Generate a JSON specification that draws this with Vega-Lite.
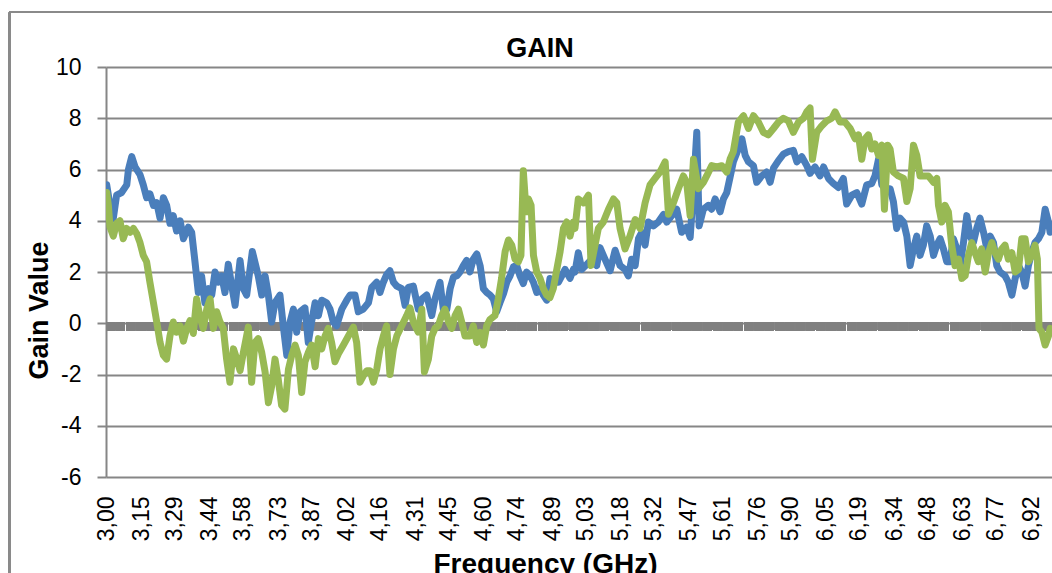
{
  "$schema": "https://vega.github.io/schema/vega-lite/v6.json",
  "autosize": {"type": "none"},
  "width": 946,
  "height": 410,
  "padding": {"left": 106, "top": 67, "right": 0, "bottom": 96},
  "background": "white",
  "config": {"view": {"stroke": null}, "font": "Liberation Sans", "axis": {"labelOverlap": false}},
  "title": {"text": "GAIN", "fontSize": 27, "fontWeight": "bold", "font": "Liberation Sans", "color": "#000000", "anchor": "middle", "frame": "group", "dx": -39, "offset": -73, "baseline": "alphabetic"},
  "data": {"values": [
{"freq":3.003,"series":"S1","gain":5.4},{"freq":3.017,"series":"S1","gain":4.6},{"freq":3.031,"series":"S1","gain":4.1},{"freq":3.045,"series":"S1","gain":5.0},{"freq":3.066,"series":"S1","gain":5.1},{"freq":3.088,"series":"S1","gain":5.4},{"freq":3.095,"series":"S1","gain":6.0},{"freq":3.109,"series":"S1","gain":6.5},{"freq":3.123,"series":"S1","gain":6.1},{"freq":3.144,"series":"S1","gain":5.8},{"freq":3.158,"series":"S1","gain":5.4},{"freq":3.172,"series":"S1","gain":4.9},{"freq":3.186,"series":"S1","gain":5.05},{"freq":3.201,"series":"S1","gain":4.6},{"freq":3.215,"series":"S1","gain":4.7},{"freq":3.229,"series":"S1","gain":4.1},{"freq":3.243,"series":"S1","gain":4.9},{"freq":3.257,"series":"S1","gain":4.6},{"freq":3.271,"series":"S1","gain":3.9},{"freq":3.285,"series":"S1","gain":4.2},{"freq":3.299,"series":"S1","gain":3.6},{"freq":3.314,"series":"S1","gain":4.0},{"freq":3.328,"series":"S1","gain":3.3},{"freq":3.349,"series":"S1","gain":3.75},{"freq":3.363,"series":"S1","gain":3.55},{"freq":3.377,"series":"S1","gain":2.4},{"freq":3.391,"series":"S1","gain":1.2},{"freq":3.405,"series":"S1","gain":1.85},{"freq":3.419,"series":"S1","gain":0.8},{"freq":3.434,"series":"S1","gain":1.35},{"freq":3.448,"series":"S1","gain":1.1},{"freq":3.462,"series":"S1","gain":2.0},{"freq":3.476,"series":"S1","gain":1.6},{"freq":3.490,"series":"S1","gain":1.85},{"freq":3.504,"series":"S1","gain":1.2},{"freq":3.518,"series":"S1","gain":2.3},{"freq":3.532,"series":"S1","gain":1.5},{"freq":3.547,"series":"S1","gain":0.7},{"freq":3.568,"series":"S1","gain":2.45},{"freq":3.582,"series":"S1","gain":1.35},{"freq":3.596,"series":"S1","gain":1.1},{"freq":3.62,"series":"S1","gain":2.8},
{"freq":3.645,"series":"S1","gain":1.85},{"freq":3.660,"series":"S1","gain":1.1},{"freq":3.674,"series":"S1","gain":1.85},{"freq":3.688,"series":"S1","gain":1.1},{"freq":3.702,"series":"S1","gain":0.05},{"freq":3.716,"series":"S1","gain":0.8},{"freq":3.737,"series":"S1","gain":1.1},{"freq":3.751,"series":"S1","gain":-0.1},{"freq":3.766,"series":"S1","gain":-1.25},{"freq":3.780,"series":"S1","gain":0.05},{"freq":3.794,"series":"S1","gain":0.55},{"freq":3.808,"series":"S1","gain":-0.35},{"freq":3.822,"series":"S1","gain":0.45},{"freq":3.843,"series":"S1","gain":0.6},{"freq":3.857,"series":"S1","gain":-0.75},{"freq":3.871,"series":"S1","gain":0.05},{"freq":3.886,"series":"S1","gain":0.8},{"freq":3.900,"series":"S1","gain":0.3},{"freq":3.914,"series":"S1","gain":0.9},{"freq":3.935,"series":"S1","gain":0.8},{"freq":3.949,"series":"S1","gain":0.55},{"freq":3.963,"series":"S1","gain":0.05},{"freq":3.977,"series":"S1","gain":-0.1},{"freq":3.999,"series":"S1","gain":0.55},{"freq":4.020,"series":"S1","gain":0.9},{"freq":4.034,"series":"S1","gain":1.1},{"freq":4.055,"series":"S1","gain":1.1},{"freq":4.069,"series":"S1","gain":0.45},{"freq":4.090,"series":"S1","gain":0.55},{"freq":4.112,"series":"S1","gain":0.8},{"freq":4.126,"series":"S1","gain":1.4},{"freq":4.147,"series":"S1","gain":1.6},{"freq":4.161,"series":"S1","gain":1.2},{"freq":4.175,"series":"S1","gain":1.6},{"freq":4.189,"series":"S1","gain":1.9},{"freq":4.203,"series":"S1","gain":2.05},{"freq":4.218,"series":"S1","gain":1.6},{"freq":4.232,"series":"S1","gain":1.45},{"freq":4.253,"series":"S1","gain":1.35},{"freq":4.267,"series":"S1","gain":0.7},{"freq":4.281,"series":"S1","gain":1.4},{"freq":4.302,"series":"S1","gain":1.45},
{"freq":4.323,"series":"S1","gain":0.55},{"freq":4.338,"series":"S1","gain":0.95},{"freq":4.359,"series":"S1","gain":1.1},{"freq":4.380,"series":"S1","gain":0.3},{"freq":4.394,"series":"S1","gain":0.95},{"freq":4.415,"series":"S1","gain":1.6},{"freq":4.429,"series":"S1","gain":0.55},{"freq":4.444,"series":"S1","gain":0.55},{"freq":4.458,"series":"S1","gain":1.35},{"freq":4.472,"series":"S1","gain":1.8},{"freq":4.486,"series":"S1","gain":1.85},{"freq":4.500,"series":"S1","gain":2.0},{"freq":4.514,"series":"S1","gain":2.25},{"freq":4.528,"series":"S1","gain":2.45},{"freq":4.542,"series":"S1","gain":2.0},{"freq":4.556,"series":"S1","gain":2.5},{"freq":4.571,"series":"S1","gain":2.7},{"freq":4.585,"series":"S1","gain":2.25},{"freq":4.599,"series":"S1","gain":1.35},{"freq":4.613,"series":"S1","gain":1.2},{"freq":4.627,"series":"S1","gain":1.1},{"freq":4.641,"series":"S1","gain":0.95},{"freq":4.655,"series":"S1","gain":0.45},{"freq":4.669,"series":"S1","gain":0.8},{"freq":4.684,"series":"S1","gain":1.15},{"freq":4.698,"series":"S1","gain":1.6},{"freq":4.712,"series":"S1","gain":1.85},{"freq":4.726,"series":"S1","gain":2.2},{"freq":4.740,"series":"S1","gain":2.25},{"freq":4.754,"series":"S1","gain":1.85},{"freq":4.768,"series":"S1","gain":1.55},{"freq":4.782,"series":"S1","gain":2.0},{"freq":4.797,"series":"S1","gain":1.85},{"freq":4.811,"series":"S1","gain":1.6},{"freq":4.825,"series":"S1","gain":1.2},{"freq":4.839,"series":"S1","gain":1.35},{"freq":4.853,"series":"S1","gain":1.1},{"freq":4.867,"series":"S1","gain":0.9},{"freq":4.881,"series":"S1","gain":1.75},{"freq":4.895,"series":"S1","gain":1.6},{"freq":4.917,"series":"S1","gain":1.6},{"freq":4.931,"series":"S1","gain":1.85},{"freq":4.945,"series":"S1","gain":2.1},{"freq":4.966,"series":"S1","gain":1.75},{"freq":4.980,"series":"S1","gain":2.1},
{"freq":4.987,"series":"S1","gain":2.0},{"freq":5.001,"series":"S1","gain":2.75},{"freq":5.016,"series":"S1","gain":2.1},{"freq":5.037,"series":"S1","gain":2.3},{"freq":5.058,"series":"S1","gain":2.5},{"freq":5.079,"series":"S1","gain":2.25},{"freq":5.093,"series":"S1","gain":2.95},{"freq":5.114,"series":"S1","gain":2.5},{"freq":5.136,"series":"S1","gain":2.05},{"freq":5.157,"series":"S1","gain":2.85},{"freq":5.178,"series":"S1","gain":2.25},{"freq":5.199,"series":"S1","gain":2.1},{"freq":5.213,"series":"S1","gain":1.85},{"freq":5.227,"series":"S1","gain":2.5},{"freq":5.242,"series":"S1","gain":2.25},{"freq":5.256,"series":"S1","gain":3.3},{"freq":5.270,"series":"S1","gain":3.55},{"freq":5.284,"series":"S1","gain":3.05},{"freq":5.298,"series":"S1","gain":3.95},{"freq":5.319,"series":"S1","gain":3.8},{"freq":5.340,"series":"S1","gain":3.95},{"freq":5.362,"series":"S1","gain":4.25},{"freq":5.376,"series":"S1","gain":3.95},{"freq":5.397,"series":"S1","gain":4.2},{"freq":5.418,"series":"S1","gain":4.45},{"freq":5.439,"series":"S1","gain":3.55},{"freq":5.460,"series":"S1","gain":3.75},{"freq":5.475,"series":"S1","gain":3.35},{"freq":5.489,"series":"S1","gain":5.25},{"freq":5.503,"series":"S1","gain":7.45},{"freq":5.513,"series":"S1","gain":3.8},{"freq":5.531,"series":"S1","gain":4.45},{"freq":5.552,"series":"S1","gain":4.6},{"freq":5.566,"series":"S1","gain":4.45},{"freq":5.581,"series":"S1","gain":4.85},{"freq":5.602,"series":"S1","gain":4.35},{"freq":5.616,"series":"S1","gain":4.85},{"freq":5.630,"series":"S1","gain":5.1},{"freq":5.644,"series":"S1","gain":5.7},{"freq":5.658,"series":"S1","gain":6.3},
{"freq":5.679,"series":"S1","gain":6.8},{"freq":5.694,"series":"S1","gain":7.2},{"freq":5.708,"series":"S1","gain":6.55},{"freq":5.722,"series":"S1","gain":6.3},{"freq":5.743,"series":"S1","gain":6.15},{"freq":5.757,"series":"S1","gain":5.5},{"freq":5.778,"series":"S1","gain":5.75},{"freq":5.799,"series":"S1","gain":5.9},{"freq":5.814,"series":"S1","gain":5.5},{"freq":5.828,"series":"S1","gain":6.05},{"freq":5.849,"series":"S1","gain":6.35},{"freq":5.870,"series":"S1","gain":6.6},{"freq":5.891,"series":"S1","gain":6.7},{"freq":5.912,"series":"S1","gain":6.75},{"freq":5.927,"series":"S1","gain":6.3},{"freq":5.948,"series":"S1","gain":6.5},{"freq":5.969,"series":"S1","gain":6.15},{"freq":5.983,"series":"S1","gain":5.85},{"freq":6.004,"series":"S1","gain":6.1},{"freq":6.025,"series":"S1","gain":5.75},{"freq":6.040,"series":"S1","gain":6.1},{"freq":6.061,"series":"S1","gain":5.65},{"freq":6.082,"series":"S1","gain":5.45},{"freq":6.103,"series":"S1","gain":5.3},{"freq":6.124,"series":"S1","gain":5.65},{"freq":6.138,"series":"S1","gain":4.65},{"freq":6.160,"series":"S1","gain":5.0},{"freq":6.181,"series":"S1","gain":5.1},{"freq":6.202,"series":"S1","gain":4.65},{"freq":6.223,"series":"S1","gain":5.4},{"freq":6.244,"series":"S1","gain":5.45},{"freq":6.258,"series":"S1","gain":5.75},{"freq":6.273,"series":"S1","gain":6.4},{"freq":6.287,"series":"S1","gain":5.4},{"freq":6.308,"series":"S1","gain":5.25},
{"freq":6.322,"series":"S1","gain":5.25},{"freq":6.336,"series":"S1","gain":4.75},{"freq":6.350,"series":"S1","gain":3.7},{"freq":6.364,"series":"S1","gain":4.1},{"freq":6.379,"series":"S1","gain":3.95},{"freq":6.393,"series":"S1","gain":3.4},{"freq":6.407,"series":"S1","gain":2.25},{"freq":6.421,"series":"S1","gain":2.9},{"freq":6.435,"series":"S1","gain":3.4},{"freq":6.449,"series":"S1","gain":2.65},{"freq":6.463,"series":"S1","gain":3.05},{"freq":6.477,"series":"S1","gain":3.8},{"freq":6.492,"series":"S1","gain":3.4},{"freq":6.506,"series":"S1","gain":2.65},{"freq":6.520,"series":"S1","gain":3.05},{"freq":6.534,"series":"S1","gain":3.3},{"freq":6.548,"series":"S1","gain":2.9},{"freq":6.562,"series":"S1","gain":2.4},{"freq":6.576,"series":"S1","gain":2.4},{"freq":6.590,"series":"S1","gain":3.3},{"freq":6.605,"series":"S1","gain":2.9},{"freq":6.619,"series":"S1","gain":2.25},{"freq":6.633,"series":"S1","gain":3.15},{"freq":6.647,"series":"S1","gain":4.2},{"freq":6.661,"series":"S1","gain":3.4},{"freq":6.675,"series":"S1","gain":3.15},{"freq":6.689,"series":"S1","gain":3.7},{"freq":6.703,"series":"S1","gain":4.1},{"freq":6.718,"series":"S1","gain":3.55},{"freq":6.732,"series":"S1","gain":2.9},{"freq":6.746,"series":"S1","gain":3.4},{"freq":6.760,"series":"S1","gain":3.15},{"freq":6.774,"series":"S1","gain":2.25},{"freq":6.788,"series":"S1","gain":2.0},{"freq":6.809,"series":"S1","gain":1.85},{"freq":6.823,"series":"S1","gain":1.6},{"freq":6.838,"series":"S1","gain":1.1},{"freq":6.852,"series":"S1","gain":1.75},{"freq":6.866,"series":"S1","gain":2.25},{"freq":6.880,"series":"S1","gain":2.0},{"freq":6.894,"series":"S1","gain":1.45},{"freq":6.908,"series":"S1","gain":2.25},{"freq":6.922,"series":"S1","gain":2.75},{"freq":6.936,"series":"S1","gain":3.15},{"freq":6.951,"series":"S1","gain":3.3},{"freq":6.965,"series":"S1","gain":3.55},{"freq":6.979,"series":"S1","gain":4.45},{"freq":6.993,"series":"S1","gain":3.95},{"freq":7.0,"series":"S1","gain":3.55},
{"freq":3.003,"series":"S2","gain":5.1},{"freq":3.010,"series":"S2","gain":4.6},{"freq":3.017,"series":"S2","gain":3.75},{"freq":3.031,"series":"S2","gain":3.4},{"freq":3.045,"series":"S2","gain":3.9},{"freq":3.059,"series":"S2","gain":4.0},{"freq":3.073,"series":"S2","gain":3.3},{"freq":3.088,"series":"S2","gain":3.7},{"freq":3.102,"series":"S2","gain":3.55},{"freq":3.116,"series":"S2","gain":3.7},{"freq":3.130,"series":"S2","gain":3.5},{"freq":3.144,"series":"S2","gain":3.15},{"freq":3.158,"series":"S2","gain":2.65},{"freq":3.172,"series":"S2","gain":2.4},{"freq":3.186,"series":"S2","gain":1.6},{"freq":3.201,"series":"S2","gain":0.8},{"freq":3.215,"series":"S2","gain":0.05},{"freq":3.229,"series":"S2","gain":-0.75},{"freq":3.243,"series":"S2","gain":-1.25},{"freq":3.257,"series":"S2","gain":-1.4},{"freq":3.271,"series":"S2","gain":-0.5},{"freq":3.285,"series":"S2","gain":0.05},{"freq":3.299,"series":"S2","gain":-0.35},{"freq":3.314,"series":"S2","gain":-0.1},{"freq":3.328,"series":"S2","gain":-0.7},{"freq":3.342,"series":"S2","gain":-0.2},{"freq":3.356,"series":"S2","gain":0.1},{"freq":3.370,"series":"S2","gain":-0.4},{"freq":3.384,"series":"S2","gain":0.95},{"freq":3.398,"series":"S2","gain":0.25},{"freq":3.412,"series":"S2","gain":-0.2},{"freq":3.427,"series":"S2","gain":0.55},{"freq":3.441,"series":"S2","gain":0.95},{"freq":3.455,"series":"S2","gain":-0.2},{"freq":3.469,"series":"S2","gain":0.45},{"freq":3.483,"series":"S2","gain":0.05},{"freq":3.497,"series":"S2","gain":-0.2},{"freq":3.511,"series":"S2","gain":-1.4},{"freq":3.525,"series":"S2","gain":-2.3},{"freq":3.540,"series":"S2","gain":-1.0},{"freq":3.554,"series":"S2","gain":-1.4},{"freq":3.568,"series":"S2","gain":-1.85},{"freq":3.582,"series":"S2","gain":-1.15},{"freq":3.603,"series":"S2","gain":-0.15},{"freq":3.617,"series":"S2","gain":-2.3},
{"freq":3.631,"series":"S2","gain":-0.75},{"freq":3.645,"series":"S2","gain":-0.6},{"freq":3.660,"series":"S2","gain":-1.15},{"freq":3.674,"series":"S2","gain":-1.9},{"freq":3.688,"series":"S2","gain":-3.1},{"freq":3.702,"series":"S2","gain":-2.45},{"freq":3.716,"series":"S2","gain":-1.4},{"freq":3.730,"series":"S2","gain":-2.2},{"freq":3.744,"series":"S2","gain":-3.2},{"freq":3.758,"series":"S2","gain":-3.35},{"freq":3.773,"series":"S2","gain":-1.8},{"freq":3.787,"series":"S2","gain":-1.25},{"freq":3.801,"series":"S2","gain":-0.85},{"freq":3.815,"series":"S2","gain":-1.25},{"freq":3.829,"series":"S2","gain":-2.7},{"freq":3.843,"series":"S2","gain":-1.5},{"freq":3.857,"series":"S2","gain":-1.15},{"freq":3.871,"series":"S2","gain":-0.85},{"freq":3.886,"series":"S2","gain":-1.7},{"freq":3.900,"series":"S2","gain":-0.6},{"freq":3.914,"series":"S2","gain":-1.0},{"freq":3.928,"series":"S2","gain":-0.5},{"freq":3.942,"series":"S2","gain":-0.2},{"freq":3.956,"series":"S2","gain":-0.75},{"freq":3.970,"series":"S2","gain":-1.5},{"freq":3.984,"series":"S2","gain":-1.2},{"freq":4.006,"series":"S2","gain":-0.85},{"freq":4.027,"series":"S2","gain":-0.5},{"freq":4.048,"series":"S2","gain":-0.15},{"freq":4.062,"series":"S2","gain":-0.75},{"freq":4.076,"series":"S2","gain":-2.3},{"freq":4.090,"series":"S2","gain":-2.05},{"freq":4.105,"series":"S2","gain":-1.85},{"freq":4.119,"series":"S2","gain":-1.85},{"freq":4.133,"series":"S2","gain":-2.3},{"freq":4.147,"series":"S2","gain":-1.8},{"freq":4.161,"series":"S2","gain":-1.0},{"freq":4.175,"series":"S2","gain":-0.5},{"freq":4.189,"series":"S2","gain":-0.1},{"freq":4.203,"series":"S2","gain":-2.0},{"freq":4.218,"series":"S2","gain":-1.0},{"freq":4.232,"series":"S2","gain":-0.5},{"freq":4.253,"series":"S2","gain":-0.1},{"freq":4.274,"series":"S2","gain":0.3},{"freq":4.288,"series":"S2","gain":0.6},{"freq":4.302,"series":"S2","gain":0.05},
{"freq":4.323,"series":"S2","gain":-0.35},{"freq":4.338,"series":"S2","gain":0.55},{"freq":4.349,"series":"S2","gain":-1.9},{"freq":4.366,"series":"S2","gain":-1.4},{"freq":4.380,"series":"S2","gain":-0.5},{"freq":4.394,"series":"S2","gain":-0.2},{"freq":4.408,"series":"S2","gain":-0.1},{"freq":4.422,"series":"S2","gain":0.3},{"freq":4.436,"series":"S2","gain":0.55},{"freq":4.451,"series":"S2","gain":0.05},{"freq":4.465,"series":"S2","gain":-0.2},{"freq":4.479,"series":"S2","gain":0.3},{"freq":4.493,"series":"S2","gain":0.55},{"freq":4.507,"series":"S2","gain":0.05},{"freq":4.521,"series":"S2","gain":-0.5},{"freq":4.542,"series":"S2","gain":-0.5},{"freq":4.556,"series":"S2","gain":-0.1},{"freq":4.571,"series":"S2","gain":-0.75},{"freq":4.585,"series":"S2","gain":-0.35},{"freq":4.599,"series":"S2","gain":-0.85},{"freq":4.613,"series":"S2","gain":-0.1},{"freq":4.627,"series":"S2","gain":0.15},{"freq":4.648,"series":"S2","gain":0.3},{"freq":4.662,"series":"S2","gain":0.95},{"freq":4.676,"series":"S2","gain":1.75},{"freq":4.691,"series":"S2","gain":2.8},{"freq":4.705,"series":"S2","gain":3.25},{"freq":4.719,"series":"S2","gain":3.05},{"freq":4.733,"series":"S2","gain":2.5},{"freq":4.747,"series":"S2","gain":2.4},{"freq":4.758,"series":"S2","gain":2.65},{"freq":4.768,"series":"S2","gain":5.95},{"freq":4.780,"series":"S2","gain":4.35},{"freq":4.790,"series":"S2","gain":4.85},{"freq":4.801,"series":"S2","gain":4.6},{"freq":4.811,"series":"S2","gain":2.65},{"freq":4.825,"series":"S2","gain":2.0},{"freq":4.839,"series":"S2","gain":1.75},{"freq":4.853,"series":"S2","gain":1.35},{"freq":4.867,"series":"S2","gain":1.1},{"freq":4.881,"series":"S2","gain":1.0},{"freq":4.895,"series":"S2","gain":1.35},{"freq":4.910,"series":"S2","gain":2.1},{"freq":4.924,"series":"S2","gain":2.8},{"freq":4.938,"series":"S2","gain":3.7},{"freq":4.952,"series":"S2","gain":3.95},{"freq":4.966,"series":"S2","gain":3.4},{"freq":4.980,"series":"S2","gain":3.95},
{"freq":4.987,"series":"S2","gain":3.7},{"freq":5.001,"series":"S2","gain":4.85},{"freq":5.023,"series":"S2","gain":4.7},{"freq":5.044,"series":"S2","gain":5.0},{"freq":5.055,"series":"S2","gain":2.25},{"freq":5.072,"series":"S2","gain":3.05},{"freq":5.086,"series":"S2","gain":3.7},{"freq":5.107,"series":"S2","gain":3.95},{"freq":5.129,"series":"S2","gain":4.45},{"freq":5.150,"series":"S2","gain":4.85},{"freq":5.164,"series":"S2","gain":4.7},{"freq":5.178,"series":"S2","gain":3.7},{"freq":5.199,"series":"S2","gain":2.9},{"freq":5.220,"series":"S2","gain":3.4},{"freq":5.242,"series":"S2","gain":4.05},{"freq":5.263,"series":"S2","gain":3.7},{"freq":5.284,"series":"S2","gain":4.7},{"freq":5.305,"series":"S2","gain":5.4},{"freq":5.326,"series":"S2","gain":5.65},{"freq":5.347,"series":"S2","gain":5.9},{"freq":5.369,"series":"S2","gain":6.3},{"freq":5.383,"series":"S2","gain":4.25},{"freq":5.404,"series":"S2","gain":4.7},{"freq":5.425,"series":"S2","gain":5.25},{"freq":5.446,"series":"S2","gain":5.75},{"freq":5.460,"series":"S2","gain":5.5},{"freq":5.475,"series":"S2","gain":4.2},{"freq":5.489,"series":"S2","gain":6.4},{"freq":5.510,"series":"S2","gain":5.25},{"freq":5.531,"series":"S2","gain":5.5},{"freq":5.545,"series":"S2","gain":5.75},{"freq":5.566,"series":"S2","gain":6.15},{"freq":5.588,"series":"S2","gain":6.1},{"freq":5.609,"series":"S2","gain":6.15},{"freq":5.630,"series":"S2","gain":5.9},{"freq":5.644,"series":"S2","gain":6.4},{"freq":5.658,"series":"S2","gain":6.7},
{"freq":5.679,"series":"S2","gain":7.85},{"freq":5.701,"series":"S2","gain":8.1},{"freq":5.722,"series":"S2","gain":7.6},{"freq":5.743,"series":"S2","gain":8.1},{"freq":5.764,"series":"S2","gain":7.85},{"freq":5.785,"series":"S2","gain":7.45},{"freq":5.806,"series":"S2","gain":7.35},{"freq":5.828,"series":"S2","gain":7.6},{"freq":5.849,"series":"S2","gain":7.85},{"freq":5.870,"series":"S2","gain":8.0},{"freq":5.891,"series":"S2","gain":7.9},{"freq":5.912,"series":"S2","gain":7.45},{"freq":5.934,"series":"S2","gain":7.85},{"freq":5.955,"series":"S2","gain":8.0},{"freq":5.969,"series":"S2","gain":8.25},{"freq":5.983,"series":"S2","gain":8.4},{"freq":5.993,"series":"S2","gain":6.4},{"freq":6.011,"series":"S2","gain":7.45},{"freq":6.032,"series":"S2","gain":7.7},{"freq":6.054,"series":"S2","gain":7.9},{"freq":6.075,"series":"S2","gain":8.0},{"freq":6.089,"series":"S2","gain":8.25},{"freq":6.110,"series":"S2","gain":7.85},{"freq":6.131,"series":"S2","gain":7.85},{"freq":6.153,"series":"S2","gain":7.6},{"freq":6.174,"series":"S2","gain":7.2},{"freq":6.188,"series":"S2","gain":7.35},{"freq":6.202,"series":"S2","gain":6.4},{"freq":6.216,"series":"S2","gain":7.2},{"freq":6.230,"series":"S2","gain":7.35},{"freq":6.244,"series":"S2","gain":6.8},{"freq":6.258,"series":"S2","gain":7.0},{"freq":6.273,"series":"S2","gain":6.55},{"freq":6.287,"series":"S2","gain":6.95},{"freq":6.298,"series":"S2","gain":4.45},{"freq":6.312,"series":"S2","gain":6.95},
{"freq":6.322,"series":"S2","gain":6.8},{"freq":6.336,"series":"S2","gain":5.9},{"freq":6.357,"series":"S2","gain":5.75},{"freq":6.379,"series":"S2","gain":5.65},{"freq":6.393,"series":"S2","gain":4.75},{"freq":6.407,"series":"S2","gain":5.25},{"freq":6.421,"series":"S2","gain":6.95},{"freq":6.435,"series":"S2","gain":6.55},{"freq":6.449,"series":"S2","gain":5.75},{"freq":6.463,"series":"S2","gain":5.75},{"freq":6.484,"series":"S2","gain":5.75},{"freq":6.506,"series":"S2","gain":5.5},{"freq":6.520,"series":"S2","gain":5.65},{"freq":6.527,"series":"S2","gain":4.6},{"freq":6.541,"series":"S2","gain":3.95},{"freq":6.555,"series":"S2","gain":4.6},{"freq":6.569,"series":"S2","gain":4.35},{"freq":6.583,"series":"S2","gain":3.05},{"freq":6.597,"series":"S2","gain":2.25},{"freq":6.612,"series":"S2","gain":2.5},{"freq":6.626,"series":"S2","gain":1.75},{"freq":6.640,"series":"S2","gain":1.85},{"freq":6.654,"series":"S2","gain":2.65},{"freq":6.668,"series":"S2","gain":3.15},{"freq":6.682,"series":"S2","gain":2.75},{"freq":6.696,"series":"S2","gain":2.4},{"freq":6.710,"series":"S2","gain":2.9},{"freq":6.725,"series":"S2","gain":2.0},{"freq":6.739,"series":"S2","gain":2.75},{"freq":6.753,"series":"S2","gain":3.15},{"freq":6.767,"series":"S2","gain":2.75},{"freq":6.781,"series":"S2","gain":2.5},{"freq":6.795,"series":"S2","gain":2.9},{"freq":6.809,"series":"S2","gain":3.05},{"freq":6.823,"series":"S2","gain":2.5},{"freq":6.838,"series":"S2","gain":2.75},{"freq":6.852,"series":"S2","gain":2.0},{"freq":6.866,"series":"S2","gain":2.1},{"freq":6.880,"series":"S2","gain":3.3},{"freq":6.894,"series":"S2","gain":3.3},{"freq":6.908,"series":"S2","gain":2.4},{"freq":6.922,"series":"S2","gain":2.65},{"freq":6.936,"series":"S2","gain":3.05},{"freq":6.946,"series":"S2","gain":2.5},{"freq":6.953,"series":"S2","gain":-0.2},{"freq":6.965,"series":"S2","gain":-0.35},{"freq":6.979,"series":"S2","gain":-0.85},{"freq":6.993,"series":"S2","gain":-0.5},{"freq":7.0,"series":"S2","gain":-0.2}
  ]},
  "layer": [
    {
      "mark": {"type": "rect", "filled": false, "stroke": "#8a8a8a", "strokeWidth": 1.5, "clip": false},
      "encoding": {
        "x": {"datum": 2.592, "type": "quantitative"},
        "x2": {"datum": 8.5},
        "y": {"datum": 12.14, "type": "quantitative"},
        "y2": {"datum": -14}
      }
    },
    {
      "mark": {"type": "rule", "color": "#808080", "strokeWidth": 8, "strokeDash": [9.3, 1]},
      "encoding": {"y": {"datum": -0.12, "type": "quantitative"}}
    },
    {
      "mark": {"type": "line", "strokeWidth": 7, "strokeJoin": "round", "strokeCap": "round", "clip": true},
      "encoding": {
        "x": {
          "field": "freq", "type": "quantitative",
          "scale": {"domain": [3, 7.008], "nice": false, "zero": false},
          "axis": {
            "values": [3, 3.15, 3.29, 3.44, 3.58, 3.73, 3.87, 4.02, 4.16, 4.31, 4.45, 4.6, 4.74, 4.89, 5.03, 5.18, 5.32, 5.47, 5.61, 5.76, 5.9, 6.05, 6.19, 6.34, 6.48, 6.63, 6.77, 6.92],
            "tickCount": 60,
            "labelExpr": "replace(format(datum.value + 0.0001, '.2f'), '.', ',')",
            "labelAngle": 270, "labelAlign": "right", "labelBaseline": "middle",
            "labelPadding": 19, "labelFontSize": 23, "labelFont": "Liberation Sans", "labelColor": "#000000",
            "labelOverlap": false, "labelFlush": false, "labelBound": false, "labelSeparation": 0,
            "ticks": false, "domain": false, "grid": false,
            "title": "Frequency (GHz)", "titleFontSize": 28, "titleFont": "Liberation Sans", "titleFontWeight": "bold", "titleColor": "#000000",
            "titleX": 439, "titleY": 95, "titleAlign": "center", "titleBaseline": "alphabetic"
          }
        },
        "y": {
          "field": "gain", "type": "quantitative",
          "scale": {"domain": [-6, 10], "nice": false, "zero": false},
          "axis": {
            "values": [-6, -4, -2, 0, 2, 4, 6, 8, 10],
            "labelExpr": "'' + datum.value",
            "labelFontSize": 23, "labelFont": "Liberation Sans", "labelColor": "#000000", "labelPadding": 16,
            "tickSize": 9, "tickWidth": 2, "tickColor": "#868686",
            "domainColor": "#868686", "domainWidth": 2,
            "grid": true, "gridColor": "#868686", "gridWidth": 2,
            "title": "Gain Value", "titleFontSize": 27, "titleFont": "Liberation Sans", "titleFontWeight": "bold", "titleColor": "#000000",
            "titleAngle": 270, "titleX": -59, "titleY": 243, "titleAlign": "center", "titleBaseline": "alphabetic"
          }
        },
        "color": {"field": "series", "type": "nominal", "scale": {"domain": ["S1", "S2"], "range": ["#4A7EBB", "#98B954"]}, "legend": null}
      }
    }
  ]
}
